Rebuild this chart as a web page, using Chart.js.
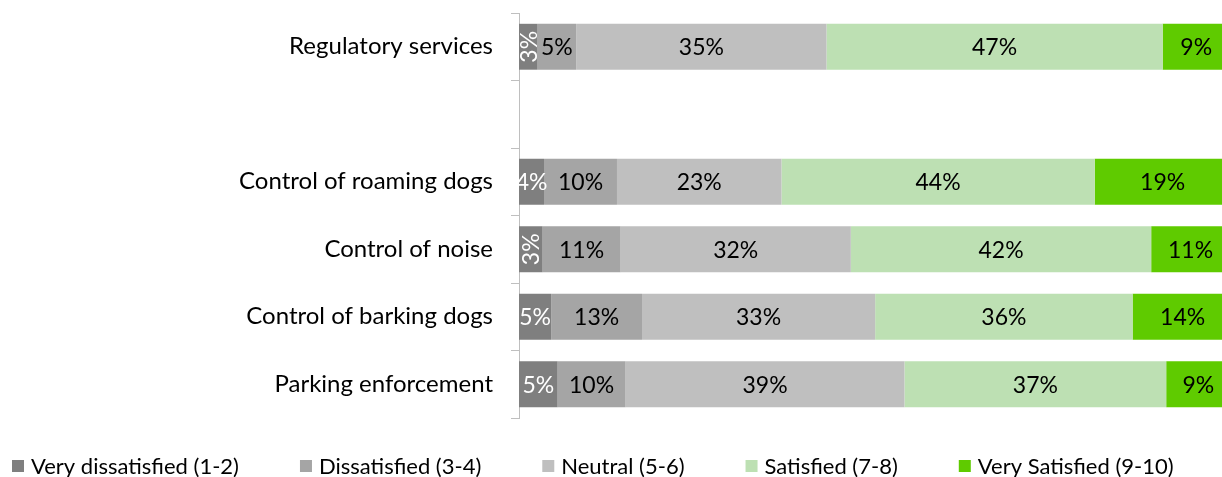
<!DOCTYPE html>
<html>
<head>
    <title>Satisfaction with regulatory services</title>
    <script src="https://cdn.jsdelivr.net/npm/chart.js"></script>
    <style>
        body { margin: 0; background: #fff; }
        #wrap { width: 1222px; height: 477px; }
    </style>
</head>
<body>
    <div id="wrap"><canvas id="myChart"></canvas></div>
    <script>
        // Categories (blank row separates the overall score from the services)
        const categories = ['Regulatory services', '', 'Control of roaming dogs', 'Control of noise',
            'Control of barking dogs', 'Parking enforcement'];
        const legendLabels = ['Very dissatisfied (1-2)', 'Dissatisfied (3-4)', 'Neutral (5-6)',
            'Satisfied (7-8)', 'Very Satisfied (9-10)'];

        // Shares in % (labels show them rounded)
        const veryDissatisfied = [2.6, null, 3.5, 3.3, 4.5, 5.4];
        const dissatisfied     = [5.4, null, 10.2, 10.9, 12.7, 9.5];
        const neutral          = [35.0, null, 23.0, 32.2, 32.6, 39.0];
        const satisfied        = [47.0, null, 43.8, 42.0, 36.0, 36.6];
        const verySatisfied    = [9.4, null, 19.0, 11.0, 14.0, 9.0];

        // the original picture is cut off a little before the 100% mark
        const X_MAX = 98.3;

        const colors = ['#7f7f7f', '#a5a5a5', '#bfbfbf', '#bde0b3', '#5fcb00'];
        const series = [veryDissatisfied, dissatisfied, neutral, satisfied, verySatisfied];

        const FONT = 'Lato, "Open Sans", sans-serif';

        // value labels inside the segments, turned upright when the segment is very narrow
        const barLabels = {
            id: 'barLabels',
            afterDatasetsDraw(chart) {
                const ctx = chart.ctx;
                ctx.save();
                ctx.font = '23px ' + FONT;
                ctx.textBaseline = 'middle';
                ctx.textAlign = 'center';
                chart.data.datasets.forEach((ds, di) => {
                    const meta = chart.getDatasetMeta(di);
                    meta.data.forEach((bar, i) => {
                        const v = ds.data[i];
                        if (v == null) return;
                        const text = Math.round(v) + '%';
                        const w = Math.abs(bar.x - bar.base);
                        const cx = (bar.x + bar.base) / 2;
                        ctx.fillStyle = di === 0 ? '#ffffff' : '#000000';
                        if (w < 24) {
                            ctx.save();
                            ctx.translate(cx, bar.y);
                            ctx.rotate(-Math.PI / 2);
                            ctx.fillText(text, 0, 1);
                            ctx.restore();
                        } else {
                            ctx.fillText(text, cx, bar.y + 1);
                        }
                    });
                });
                ctx.restore();
            }
        };

        // legend row along the bottom, spaced like the original
        const bottomLegend = {
            id: 'bottomLegend',
            afterDraw(chart) {
                const ctx = chart.ctx;
                ctx.save();
                ctx.font = '22px ' + FONT;
                ctx.textBaseline = 'middle';
                ctx.textAlign = 'left';
                let x = 12;
                const y = 466;
                chart.data.datasets.forEach(ds => {
                    ctx.fillStyle = ds.backgroundColor;
                    ctx.fillRect(x, y - 6, 12, 12);
                    ctx.fillStyle = '#000000';
                    ctx.fillText(ds.label, x + 19, y + 1);
                    x += 19 + ctx.measureText(ds.label).width + 61;
                });
                ctx.restore();
            }
        };

        const ctx = document.getElementById('myChart').getContext('2d');
        new Chart(ctx, {
            type: 'bar',
            data: {
                labels: categories,
                datasets: series.map((arr, di) => ({
                    label: legendLabels[di],
                    data: arr,
                    backgroundColor: colors[di],
                    borderWidth: 0,
                    barPercentage: 0.68,
                    categoryPercentage: 1.0
                }))
            },
            options: {
                indexAxis: 'y',
                responsive: true,
                maintainAspectRatio: false,
                animation: false,
                layout: { padding: { top: 13, right: 0, left: 0, bottom: 59 } },
                scales: {
                    x: { stacked: true, min: 0, max: X_MAX, display: false },
                    y: {
                        stacked: true,
                        border: { display: true, color: '#bfbfbf', width: 1 },
                        grid: {
                            offset: true,
                            drawOnChartArea: false,
                            drawTicks: true,
                            tickLength: 8,
                            color: '#bfbfbf'
                        },
                        ticks: {
                            color: '#000000',
                            padding: 18,
                            font: { family: FONT, size: 24 }
                        },
                        afterFit(scale) {
                            scale.width = 519;
                            scale.paddingTop = 0;
                            scale.paddingBottom = 0;
                        }
                    }
                },
                plugins: {
                    legend: { display: false },
                    tooltip: { enabled: false }
                }
            },
            plugins: [barLabels, bottomLegend]
        });
    </script>
</body>
</html>
